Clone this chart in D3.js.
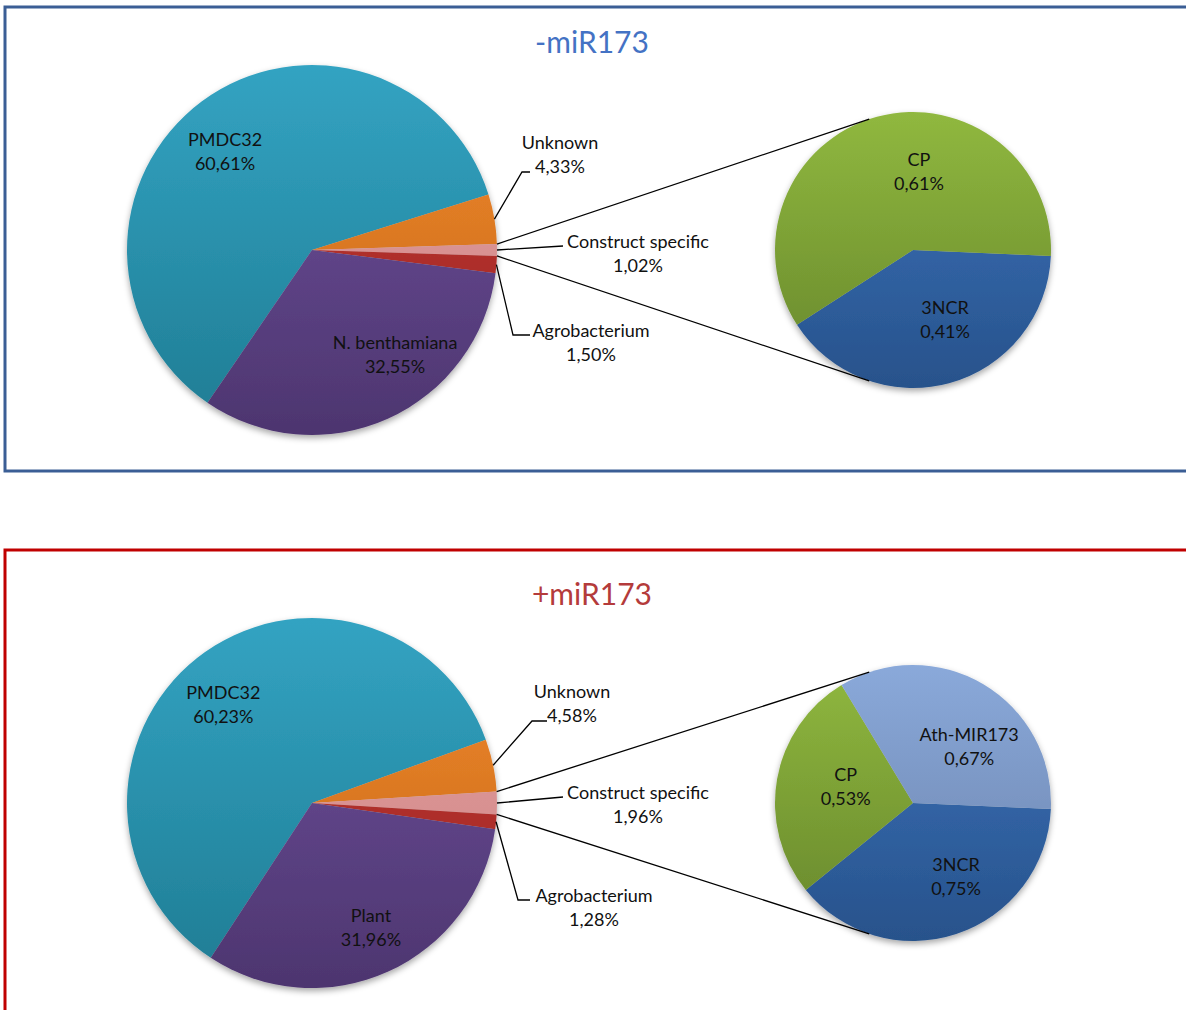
<!DOCTYPE html>
<html>
<head>
<meta charset="utf-8">
<script src="https://cdn.jsdelivr.net/npm/d3@7"></script>
<style>
  body { margin: 0; background: #fff; }
  text { font-family: Lato, "Open Sans", sans-serif; }
</style>
</head>
<body>
<div id="chart"></div>
<script>
// data
const topCategories = ["PMDC32", "Unknown", "Construct specific", "Agrobacterium", "N. benthamiana"];
const topValues = [60.61, 4.33, 1.02, 1.50, 32.55];
const topSubCategories = ["3NCR", "CP"];
const topSubValues = [0.41, 0.61];

const bottomCategories = ["PMDC32", "Unknown", "Construct specific", "Agrobacterium", "Plant"];
const bottomValues = [60.23, 4.58, 1.96, 1.28, 31.96];
const bottomSubCategories = ["3NCR", "CP", "Ath-MIR173"];
const bottomSubValues = [0.75, 0.53, 0.67];

const fmt = v => v.toFixed(2).replace(".", ",") + "%";

const colors = {
  "PMDC32": ["#33a3c2", "#1f7c93"],
  "Unknown": ["#f48b2a", "#c0641c"],
  "Construct specific": ["#e8a3a3", "#c98080"],
  "Agrobacterium": ["#c83b36", "#972420"],
  "N. benthamiana": ["#7053a0", "#4d356f"],
  "Plant": ["#7053a0", "#4d356f"],
  "CP": ["#90b83f", "#66862b"],
  "3NCR": ["#3a74bd", "#28528b"],
  "Ath-MIR173": ["#8aa9da", "#6a82ab"]
};

const W = 1186, H = 1010;
const svg = d3.select("#chart").append("svg")
  .attr("width", W)
  .attr("height", H);

const defs = svg.append("defs");
const shadow = defs.append("filter").attr("id", "shadow")
  .attr("x", "-10%").attr("y", "-10%").attr("width", "120%").attr("height", "125%");
shadow.append("feDropShadow")
  .attr("dx", 0).attr("dy", 3).attr("stdDeviation", 3)
  .attr("flood-color", "#000").attr("flood-opacity", 0.35);

let gradId = 0;
function gradient(name, y0, y1) {
  const id = "g" + (gradId++);
  const g = defs.append("linearGradient").attr("id", id)
    .attr("gradientUnits", "userSpaceOnUse")
    .attr("x1", 0).attr("x2", 0).attr("y1", y0).attr("y2", y1);
  g.append("stop").attr("offset", "0%").attr("stop-color", colors[name][0]);
  g.append("stop").attr("offset", "100%").attr("stop-color", colors[name][1]);
  return "url(#" + id + ")";
}

// two centred lines, y is the middle between them
function twoLine(g, x, y, a, b) {
  const t = g.append("text")
    .attr("x", x).attr("y", y)
    .attr("text-anchor", "middle")
    .style("font-size", "18px")
    .style("fill", "#111");
  t.append("tspan").attr("x", x).attr("dy", "-6px").text(a);
  t.append("tspan").attr("x", x).attr("dy", "24px").text(b);
}

const toRad = d => d * Math.PI / 180;

function drawPanel(cfg) {
  const g = svg.append("g");

  g.append("rect")
    .attr("x", 5).attr("y", cfg.top)
    .attr("width", W + 20).attr("height", cfg.height)
    .style("fill", "none")
    .style("stroke", cfg.border)
    .style("stroke-width", 3);

  g.append("text")
    .attr("x", 592).attr("y", cfg.titleY)
    .attr("text-anchor", "middle")
    .style("font-size", "30px")
    .style("fill", cfg.titleColor)
    .text(cfg.title);

  // main pie, rotated so the split slice points right
  const total = d3.sum(cfg.values);
  const ci = cfg.categories.indexOf("Construct specific");
  const before = d3.sum(cfg.values.slice(0, ci));
  const start = Math.PI / 2 - 2 * Math.PI * (before + cfg.values[ci] / 2) / total;

  const data = cfg.categories.map((c, i) => ({name: c, value: cfg.values[i]}));
  const pie = d3.pie().sort(null).value(d => d.value)
    .startAngle(start).endAngle(start + 2 * Math.PI);
  const R = 185;
  const arc = d3.arc().innerRadius(0).outerRadius(R);
  const cx = 312, cy = cfg.cy;
  const arcs = pie(data);

  const main = g.append("g").attr("transform", `translate(${cx},${cy})`)
    .attr("filter", "url(#shadow)");
  main.selectAll("path").data(arcs).enter().append("path")
    .attr("d", arc)
    .style("fill", d => gradient(d.data.name, -R, R));

  // sub pie
  const subData = cfg.subCategories.map((c, i) => ({name: c, value: cfg.subValues[i]}));
  const subStart = toRad(92.5);
  const subPie = d3.pie().sort(null).value(d => d.value)
    .startAngle(subStart).endAngle(subStart + 2 * Math.PI);
  const r = 138;
  const subArc = d3.arc().innerRadius(0).outerRadius(r);
  const sx = 913, sy = cfg.cy;
  const subArcs = subPie(subData);

  const sub = g.append("g").attr("transform", `translate(${sx},${sy})`)
    .attr("filter", "url(#shadow)");
  sub.selectAll("path").data(subArcs).enter().append("path")
    .attr("d", subArc)
    .style("fill", d => gradient(d.data.name, -r, r));

  // connector lines
  const split = arcs[ci];
  const pt = (x0, y0, rad, a) => [x0 + rad * Math.sin(a), y0 - rad * Math.cos(a)];
  const conn = [
    [pt(cx, cy, R, split.startAngle), pt(sx, sy, r, toRad(341.5))],
    [pt(cx, cy, R, split.endAngle), pt(sx, sy, r, toRad(198.5))]
  ];
  g.selectAll(".conn").data(conn).enter().append("line")
    .attr("class", "conn")
    .attr("x1", d => d[0][0]).attr("y1", d => d[0][1])
    .attr("x2", d => d[1][0]).attr("y2", d => d[1][1])
    .style("stroke", "#000").style("stroke-width", 1.3);

  // labels
  arcs.forEach(d => {
    const lay = cfg.labels[d.data.name];
    if (lay.inside) {
      const [lx, ly] = pt(cx, cy, lay.r, toRad(lay.a));
      twoLine(g, lx, ly, d.data.name, fmt(d.data.value));
    } else {
      const mid = (d.startAngle + d.endAngle) / 2;
      const p0 = pt(cx, cy, R, mid);
      const pts = [p0].concat(lay.path.map(p => [p[0], cy + p[1]]));
      g.append("path")
        .attr("d", d3.line()(pts))
        .style("fill", "none").style("stroke", "#000").style("stroke-width", 1.3);
      twoLine(g, lay.tx, cy + lay.ty, d.data.name, fmt(d.data.value));
    }
  });

  subArcs.forEach(d => {
    const lay = cfg.subLabels[d.data.name];
    const [lx, ly] = pt(sx, sy, lay.r, toRad(lay.a));
    twoLine(g, lx, ly, d.data.name, fmt(d.data.value));
  });
}

drawPanel({
  top: 7, height: 464, cy: 250, titleY: 53,
  border: "#3b5e95", title: "-miR173", titleColor: "#4472c4",
  categories: topCategories, values: topValues,
  subCategories: topSubCategories, subValues: topSubValues,
  labels: {
    "PMDC32": {inside: true, a: 318.4, r: 131},
    "N. benthamiana": {inside: true, a: 141.7, r: 134},
    "Unknown": {path: [[522, -78], [530, -78]], tx: 560, ty: -95},
    "Construct specific": {path: [[563, -4]], tx: 638, ty: 4},
    "Agrobacterium": {path: [[513, 85], [530, 85]], tx: 591, ty: 93}
  },
  subLabels: {
    "CP": {a: 4.4, r: 78},
    "3NCR": {a: 155.4, r: 77}
  }
});

drawPanel({
  top: 550, height: 500, cy: 803, titleY: 605,
  border: "#c00000", title: "+miR173", titleColor: "#b43b3b",
  categories: bottomCategories, values: bottomValues,
  subCategories: bottomSubCategories, subValues: bottomSubValues,
  labels: {
    "PMDC32": {inside: true, a: 317.8, r: 132},
    "Plant": {inside: true, a: 154.7, r: 138},
    "Unknown": {path: [[532, -82], [547, -82]], tx: 572, ty: -99},
    "Construct specific": {path: [[563, -6]], tx: 638, ty: 2},
    "Agrobacterium": {path: [[518, 97], [530, 97]], tx: 594, ty: 105}
  },
  subLabels: {
    "Ath-MIR173": {a: 45.3, r: 79},
    "CP": {a: 283, r: 69},
    "3NCR": {a: 149.8, r: 85.6}
  }
});
</script>
</body>
</html>
